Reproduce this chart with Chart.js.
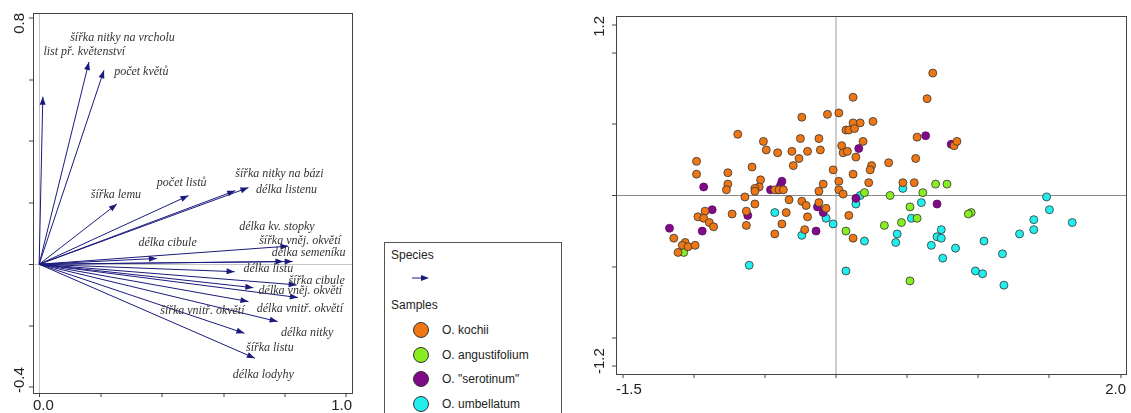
<!DOCTYPE html>
<html>
<head>
<meta charset="utf-8">
<script src="https://cdn.jsdelivr.net/npm/chart.js@4"></script>
<style>
  body { margin: 0; background: #fff; width: 1131px; height: 413px; overflow: hidden; position: relative;
         font-family: "Liberation Sans", Arial, sans-serif; }
  #biplot { position: absolute; left: 0; top: 0; }
  #samples { position: absolute; left: 580px; top: 0; }
  .legend { position: absolute; left: 384px; top: 242px; width: 176px; height: 190px;
            border: 1px solid #555; font-size: 12px; color: #222; }
  .legend .row { position: absolute; left: 0; white-space: nowrap; line-height: 14px; }
  .legend .dot { position: absolute; width: 14px; height: 14px; border-radius: 50%; border: 1px solid #333; }
</style>
</head>
<body>
<canvas id="biplot" width="360" height="413"></canvas>
<canvas id="samples" width="551" height="413"></canvas>

<div class="legend" id="legend">
  <div class="row" style="left:6px; top:5px">Species</div>
  <svg style="position:absolute; left:27px; top:31px" width="18" height="8">
    <line x1="0" y1="4" x2="12" y2="4" stroke="#1b1b7d" stroke-width="1"/>
    <polygon points="17,4 9,1 9,7" fill="#1b1b7d"/>
  </svg>
  <div class="row" style="left:6px; top:55px">Samples</div>
</div>

<script>
// trait loadings (arrow tips)
const traits = [
  "list př. květenství", "šířka nitky na vrcholu", "počet květů", "šířka lemu", "počet listů",
  "šířka nitky na bázi", "délka listenu", "délka cibule", "délka kv. stopky", "šířka vněj. okvětí",
  "délka semeníku", "délka listu", "šířka cibule", "délka vněj. okvětí", "šířka vnitř. okvětí",
  "délka vnitř. okvětí", "délka nitky", "šířka listu", "délka lodyhy"
];
const loadX = [0.012, 0.162, 0.211, 0.253, 0.486, 0.681, 0.638, 0.383, 0.811, 0.795,
               0.825, 0.636, 0.838, 0.842, 0.681, 0.697, 0.776, 0.668, 0.702];
const loadY = [0.544, 0.657, 0.630, 0.196, 0.223, 0.249, 0.239, 0.019, 0.059, 0.009,
               0.009, -0.024, -0.067, -0.108, -0.121, -0.076, -0.186, -0.224, -0.305];

// sample scores per species
const groups = ["O. kochii", "O. angustifolium", "O. \"serotinum\"", "O. umbellatum"];
const kochii = [
  [0.68,0.86],[0.64,0.68],[0.12,0.69],[-0.24,0.55],[-0.06,0.57],[0.02,0.58],[0.12,0.51],[0.17,0.51],
  [0.26,0.52],[0.07,0.46],[0.09,0.46],[0.13,0.47],[-0.69,0.43],[-0.51,0.38],[-0.25,0.40],[-0.12,0.40],
  [0.19,0.38],[0.04,0.35],[-0.49,0.32],[-0.41,0.30],[-0.31,0.31],[-0.20,0.31],[-0.11,0.32],[0.05,0.30],
  [0.08,0.31],[0.14,0.27],[-0.26,0.26],[0.57,0.41],[0.56,0.26],[0.83,0.35],[0.85,0.38],[-0.98,0.24],
  [-0.98,0.15],[-0.30,0.21],[-0.59,0.20],[0.25,0.21],[0.24,0.18],[0.37,0.23],[-0.02,0.18],[0.12,0.15],
  [-0.76,0.16],[-0.76,0.08],[-0.77,0.04],[-0.53,0.11],[-0.54,0.06],[-0.57,0.05],[-0.57,0.03],[0.02,0.10],
  [0.23,0.09],[-0.09,0.08],[0.02,0.04],[0.05,0.01],[-0.12,0.03],[0.47,0.09],[0.55,0.09],[-0.43,0.04],
  [-0.40,0.04],[-0.37,0.04],[-0.64,-0.01],[-0.33,-0.03],[-0.24,-0.04],[-0.57,-0.06],[-0.12,-0.05],
  [-0.21,-0.07],[-0.07,-0.09],[-0.92,-0.11],[-0.63,-0.11],[-0.35,-0.12],[-0.73,-0.13],[-0.97,-0.15],
  [-0.93,-0.16],[0.09,-0.14],[-0.20,-0.15],[-0.89,-0.19],[-0.86,-0.22],[-0.63,-0.21],[-0.38,-0.20],
  [-0.22,-0.24],[-0.43,-0.27],[0.12,-0.30],[-1.14,-0.30],[-1.06,-0.33],[-1.08,-0.35],[-1.11,-0.40],
  [-1.04,-0.36],[-0.99,-0.35]
];
const angustifolium = [
  [0.70,0.08],[0.78,0.08],[0.61,0.02],[0.38,0.00],[0.20,0.02],[0.52,-0.08],[0.95,-0.12],[0.93,-0.13],
  [0.46,-0.19],[0.57,-0.16],[0.34,-0.21],[0.07,-0.25],[0.52,-0.60],[-1.07,-0.40]
];
const serotinum = [
  [0.63,0.42],[0.81,0.36],[0.16,0.33],[-0.93,0.06],[-0.38,0.10],[-0.39,0.07],[-0.46,0.04],[-0.41,0.04],
  [-0.87,-0.10],[-0.62,-0.14],[-0.13,-0.08],[-0.09,-0.12],[0.14,-0.02],[0.71,-0.06],[-1.17,-0.23],
  [-0.94,-0.25],[-0.14,-0.25]
];
const umbellatum = [
  [0.47,0.05],[0.17,0.00],[0.14,-0.06],[0.60,-0.05],[1.48,-0.01],[1.50,-0.10],[1.39,-0.17],[1.66,-0.19],
  [1.39,-0.24],[1.29,-0.27],[0.53,-0.16],[0.74,-0.24],[0.71,-0.29],[0.74,-0.30],[0.43,-0.27],[0.42,-0.33],
  [0.67,-0.35],[0.84,-0.37],[1.04,-0.32],[1.17,-0.41],[0.75,-0.44],[0.98,-0.53],[1.03,-0.55],[1.18,-0.63],
  [-0.02,-0.20],[-0.07,-0.16],[0.20,-0.32],[-0.24,-0.28],[-0.43,-0.12],[-0.61,-0.49],[0.07,-0.53]
];

// axis ticks
const biplotTicksX = [0, 0.2, 0.4, 0.6, 0.8, 1.0];
const biplotTicksY = [-0.4, -0.2, 0, 0.2, 0.4, 0.6, 0.8];
const biplotLabelsX = [0.0, 1.0];
const biplotLabelsY = [0.8, -0.4];
const sampleTicksX = [-1.5, -1.0, -0.5, 0, 0.5, 1.0, 1.5, 2.0];
const sampleTicksY = [-1.2, -1.0, -0.5, 0, 0.5, 1.0, 1.2];
const sampleLabelsX = [-1.5, 2.0];
const sampleLabelsY = [1.2, -1.2];

const NAVY = '#1b1b7d';
const groupColors = ['#ee7714', '#88ee22', '#800a8a', '#22eeee'];
const groupData = [kochii, angustifolium, serotinum, umbellatum];

// where each trait name sits (left edge, middle), in loading units
const labelAt = [
  [0.014, 0.690], [0.101, 0.736], [0.244, 0.625], [0.168, 0.225], [0.383, 0.265],
  [0.638, 0.295], [0.706, 0.241], [0.323, 0.071], [0.651, 0.120], [0.716, 0.077],
  [0.757, 0.036], [0.665, -0.016], [0.811, -0.054], [0.714, -0.086], [0.394, -0.151],
  [0.708, -0.145], [0.787, -0.224], [0.673, -0.270], [0.630, -0.359]
];

Chart.defaults.font.family = '"Liberation Sans", Arial, sans-serif';

// frame around the plot area
const frame = {
  id: 'frame',
  afterDraw(chart) {
    const a = chart.chartArea, ctx = chart.ctx;
    ctx.save();
    ctx.strokeStyle = '#444';
    ctx.lineWidth = 1;
    ctx.strokeRect(Math.round(a.left) + 0.5, Math.round(a.top) + 0.5,
                   Math.round(a.right - a.left), Math.round(a.bottom - a.top));
    ctx.restore();
  }
};

// end labels on both axes, kept inside the frame
const endLabels = {
  id: 'endLabels',
  afterDraw(chart, args, opts) {
    const ctx = chart.ctx, a = chart.chartArea;
    ctx.save();
    ctx.font = '15px "Liberation Sans", Arial, sans-serif';
    ctx.fillStyle = '#222';
    ctx.textBaseline = 'middle';
    ctx.textAlign = 'center';
    opts.x.forEach(v => {
      const t = v.toFixed(1), w = ctx.measureText(t).width;
      let px = chart.scales.x.getPixelForValue(v);
      px = Math.max(a.left + w / 2, Math.min(a.right - w / 2, px));
      ctx.fillText(t, px, a.bottom + opts.gapX);
    });
    opts.y.forEach(v => {
      const t = v.toFixed(1), w = ctx.measureText(t).width;
      let py = chart.scales.y.getPixelForValue(v);
      py = Math.max(a.top + w / 2, Math.min(a.bottom - w / 2, py));
      ctx.save();
      ctx.translate(a.left - opts.gapY, py);
      ctx.rotate(-Math.PI / 2);
      ctx.fillText(t, 0, 0);
      ctx.restore();
    });
    ctx.restore();
  }
};

const arrowHeads = {
  id: 'arrowHeads',
  afterDatasetsDraw(chart) {
    const ctx = chart.ctx, sx = chart.scales.x, sy = chart.scales.y;
    const x0 = sx.getPixelForValue(0), y0 = sy.getPixelForValue(0);
    ctx.save();
    ctx.fillStyle = NAVY;
    loadX.forEach((lx, i) => {
      const x1 = sx.getPixelForValue(lx), y1 = sy.getPixelForValue(loadY[i]);
      const ang = Math.atan2(y1 - y0, x1 - x0);
      ctx.save();
      ctx.translate(x1, y1);
      ctx.rotate(ang);
      ctx.beginPath();
      ctx.moveTo(0, 0);
      ctx.lineTo(-8, -3);
      ctx.lineTo(-8, 3);
      ctx.closePath();
      ctx.fill();
      ctx.restore();
    });
    ctx.font = 'italic 12px "Liberation Serif", "Times New Roman", serif';
    ctx.fillStyle = '#333';
    ctx.textAlign = 'left';
    ctx.textBaseline = 'middle';
    traits.forEach((name, i) => {
      ctx.fillText(name, sx.getPixelForValue(labelAt[i][0]), sy.getPixelForValue(labelAt[i][1]));
    });
    ctx.restore();
  }
};

function axis(min, max, ticks, size, horizontal, zeroColor, zeroWidth) {
  return {
    type: 'linear', min: min, max: max,
    afterBuildTicks: s => { s.ticks = ticks.map(v => ({ value: v })); },
    afterFit: s => { if (horizontal) s.height = size; else s.width = size; },
    ticks: { display: false },
    border: { display: false },
    grid: {
      drawOnChartArea: true,
      color: c => (c.tick && c.tick.value === 0) ? zeroColor : 'rgba(0,0,0,0)',
      lineWidth: c => (c.tick && c.tick.value === 0) ? zeroWidth : 0,
      tickColor: '#444', tickLength: 4, tickWidth: 1
    }
  };
}

new Chart(document.getElementById('biplot'), {
  type: 'scatter',
  data: {
    datasets: traits.map((t, i) => ({
      label: t,
      data: [{ x: 0, y: 0 }, { x: loadX[i], y: loadY[i] }],
      showLine: true, borderColor: NAVY, borderWidth: 1, pointRadius: 0
    }))
  },
  options: {
    responsive: false, animation: false,
    layout: { padding: { left: 0, right: 8, top: 13, bottom: 0 } },
    plugins: { legend: { display: false }, tooltip: { enabled: false },
               endLabels: { x: biplotLabelsX, y: biplotLabelsY, gapX: 13, gapY: 13 } },
    scales: {
      x: axis(-0.02, 1.018, biplotTicksX, 20, true, '#c4c4c4', 1),
      y: axis(-0.418, 0.816, biplotTicksY, 33, false, '#c4c4c4', 1)
    }
  },
  plugins: [frame, endLabels, arrowHeads]
});

new Chart(document.getElementById('samples'), {
  type: 'scatter',
  data: {
    datasets: groups.map((g, i) => ({
      label: g,
      data: groupData[i].map(p => ({ x: p[0], y: p[1] })),
      backgroundColor: groupColors[i],
      borderColor: i === 2 ? '#5a0a62' : '#333',
      borderWidth: 0.8, pointRadius: 4
    }))
  },
  options: {
    responsive: false, animation: false,
    layout: { padding: { left: 0, right: 5, top: 16, bottom: 0 } },
    plugins: { legend: { display: false }, tooltip: { enabled: false },
               endLabels: { x: sampleLabelsX, y: sampleLabelsY, gapX: 16, gapY: 16 } },
    scales: {
      x: axis(-1.546, 2.038, sampleTicksX, 39, true, '#cdcdcd', 2),
      y: axis(-1.254, 1.261, sampleTicksY, 36, false, '#8c8c8c', 1)
    }
  },
  plugins: [frame, endLabels]
});

// sample legend rows
const legend = document.getElementById('legend');
groups.forEach((g, i) => {
  const cy = 87 + i * 24.7;
  const dot = document.createElement('div');
  dot.className = 'dot';
  dot.style.left = '28px';
  dot.style.top = (cy - 8) + 'px';
  dot.style.background = groupColors[i];
  legend.appendChild(dot);
  const row = document.createElement('div');
  row.className = 'row';
  row.style.left = '57px';
  row.style.top = (cy - 7) + 'px';
  row.textContent = g;
  legend.appendChild(row);
});
</script>
</body>
</html>
